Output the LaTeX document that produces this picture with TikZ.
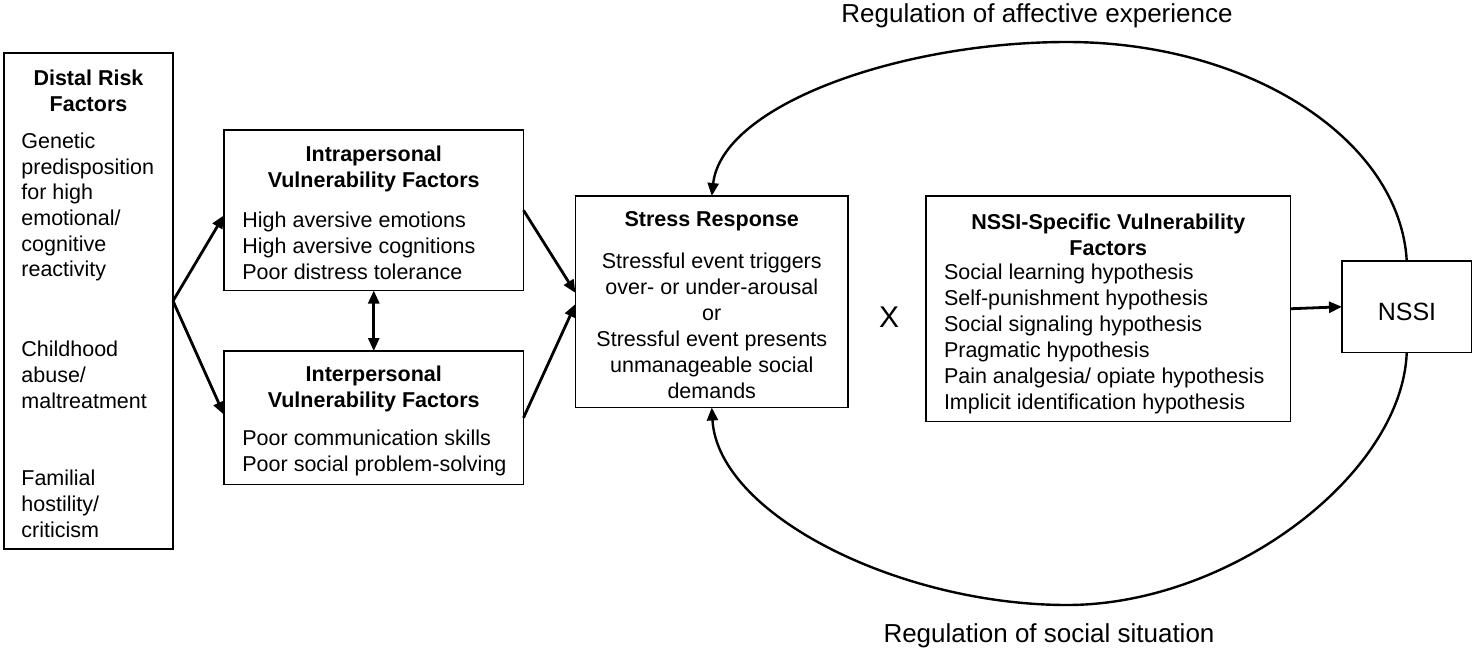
\documentclass[tikz,border=0pt]{standalone}
\usepackage{fontspec}
\setmainfont{Liberation Sans}
\usetikzlibrary{arrows.meta}
\begin{document}
\begin{tikzpicture}[x=0.5pt,y=-0.5pt,
  box/.style={draw,line width=0.7pt,inner sep=0pt,outer sep=0pt},
  txt/.style={inner sep=0pt,align=left,font=\fontsize{10.75}{13}\selectfont},
  ctxt/.style={inner sep=0pt,align=center,font=\fontsize{10.75}{13}\selectfont},
  ttl/.style={inner sep=0pt,align=center,font=\fontsize{10.75}{13}\selectfont\bfseries},
  big/.style={inner sep=0pt,font=\fontsize{13}{15}\selectfont},
  arr/.style={line width=1.4pt,-{Triangle[length=6.5pt,width=5.5pt]}},
  biarr/.style={line width=1.4pt,{Triangle[length=6.5pt,width=5.5pt]}-{Triangle[length=6.5pt,width=5.5pt]}},
  curvearrow/.style={line width=1.2pt,-{Triangle[length=6.5pt,width=5.5pt]}},
]
\useasboundingbox (0,0) rectangle (1473,654);

% boxes
\node[box,minimum width=84.5pt,minimum height=248pt] (distal) at (88.5,301) {};
\node[box,minimum width=149.75pt,minimum height=80.25pt] (intra) at (373.75,210.25) {};
\node[box,minimum width=149.75pt,minimum height=66.75pt] (inter) at (373.75,417.75) {};
\node[box,minimum width=136.25pt,minimum height=105.75pt] (stress) at (711.75,301.75) {};
\node[box,minimum width=182.25pt,minimum height=112.75pt] (spec) at (1108.25,308.75) {};
\node[box,minimum width=64.75pt,minimum height=45.75pt] (nssi) at (1406.75,306.75) {};

% distal texts
\node[ttl] (distaltitle) at (88.5,91) {Distal Risk\\Factors};
\node[txt,anchor=west,font=\fontsize{10.75}{12.85}\selectfont] (distalA) at (21,207) {Genetic\\predisposition\\for high\\emotional/\\cognitive\\reactivity};
\node[txt,anchor=west,font=\fontsize{10.75}{12.85}\selectfont] (distalB) at (21,375) {Childhood\\abuse/\\maltreatment};
\node[txt,anchor=west,font=\fontsize{10.75}{12.85}\selectfont] (distalC) at (21,504) {Familial\\hostility/\\criticism};

% intrapersonal
\node[ttl] (intratitle) at (373.75,169) {Intrapersonal\\Vulnerability Factors};
\node[txt,anchor=west] (intrabody) at (242,246) {High aversive emotions\\High aversive cognitions\\Poor distress tolerance};

% interpersonal
\node[ttl] (intertitle) at (373.75,388.5) {Interpersonal\\Vulnerability Factors};
\node[txt,anchor=west] (interbody) at (242,453) {Poor communication skills\\Poor social problem-solving};

% stress response
\node[ttl] (stresstitle) at (711.75,221) {Stress Response};
\node[ctxt] (stressbody) at (711.75,326) {Stressful event triggers\\over- or under-arousal\\or\\Stressful event presents\\unmanageable social\\demands};

% X
\node[inner sep=0pt,font=\fontsize{15}{17}\selectfont] (times) at (889,317) {X};

% NSSI-specific
\node[ttl] (spectitle) at (1108.25,235) {NSSI-Specific Vulnerability\\Factors};
\node[txt,anchor=west] (specbody) at (943.6,338.5) {Social learning hypothesis\\Self-punishment hypothesis\\Social signaling hypothesis\\Pragmatic hypothesis\\Pain analgesia/ opiate hypothesis\\Implicit identification hypothesis};

% NSSI
\node[big,font=\fontsize{12.5}{15}\selectfont] (nssilabel) at (1407,312) {NSSI};

% loop labels
\node[big] (toplabel) at (1037,15.5) {Regulation of affective experience};
\node[big] (botlabel) at (1049,636) {Regulation of social situation};

% arrows
\draw[arr] (distal.east) -- ([yshift=-2.5pt]intra.west);
\draw[arr] (distal.east) -- ([yshift=1.5pt]inter.west);
\draw[arr] (intra.east) -- ([yshift=4.4pt]stress.west);
\draw[arr] (inter.east) -- ([yshift=-1.1pt]stress.west);
\draw[biarr] (intra.south) -- (inter.north);
\draw[arr] (spec.east) -- (nssi.west);

% feedback loops
\coordinate (toppeak) at (1067,42);
\coordinate (botpeak) at (1067,605);
\draw[curvearrow] (nssi.north) .. controls (1400,140) and (1250,42) .. (toppeak)
  .. controls (900,42) and (722,105) .. (stress.north);
\draw[curvearrow] (nssi.south) .. controls (1402,475) and (1230,605) .. (botpeak)
  .. controls (900,605) and (718,515) .. (stress.south);
\end{tikzpicture}
\end{document}
